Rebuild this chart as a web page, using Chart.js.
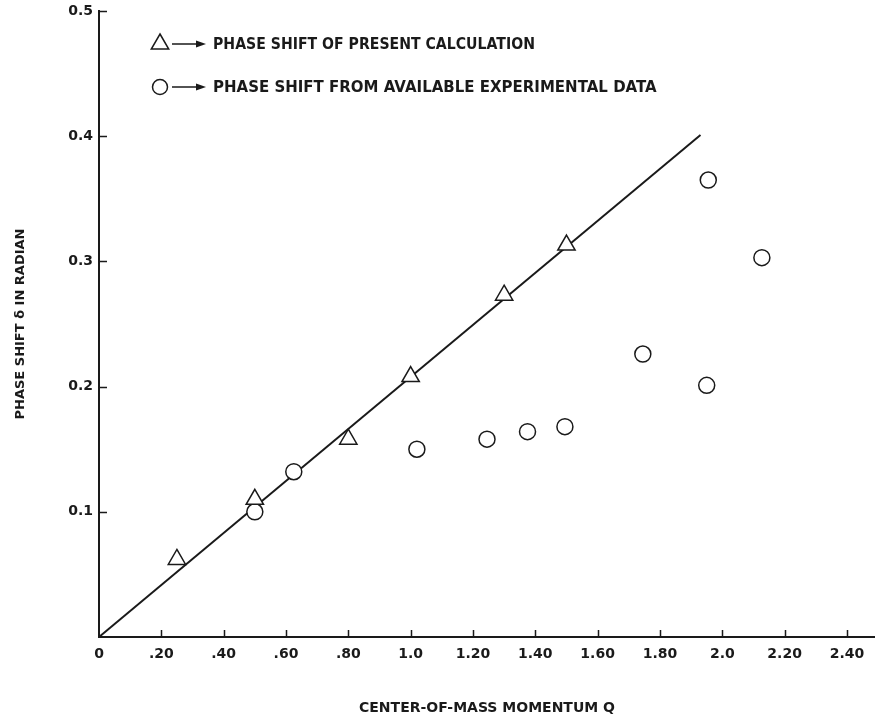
<!DOCTYPE html>
<html lang="en">
<head>
  <meta charset="UTF-8" />
  <title>Phase shift vs center-of-mass momentum</title>
  <script src="https://cdn.jsdelivr.net/npm/chart.js"></script>
  <style>
    html, body {
      margin: 0;
      padding: 0;
      background: #fff;
    }

    .wrap {
      position: relative;
      width: 875px;
      height: 727px;
    }
  </style>
</head>
<body>
  <div class="wrap">
    <canvas id="phaseChart"></canvas>
  </div>

  <script>
    // present calculation (triangles)
    const calcQ = [0.25, 0.50, 0.80, 1.00, 1.30, 1.50];
    const calcDelta = [0.062, 0.110, 0.158, 0.208, 0.273, 0.313];

    // available experimental data (circles)
    const expQ = [0.50, 0.625, 1.02, 1.245, 1.375, 1.495, 1.745, 1.95, 1.955, 2.127];
    const expDelta = [0.100, 0.132, 0.150, 0.158, 0.164, 0.168, 0.226, 0.201, 0.365, 0.303];

    // straight line drawn through the calculation
    const lineQ = [0, 1.93];
    const lineDelta = [0, 0.401];

    const xTickValues = [0, 0.2, 0.4, 0.6, 0.8, 1.0, 1.2, 1.4, 1.6, 1.8, 2.0, 2.2, 2.4];
    const xTickLabels = ['0', '.20', '.40', '.60', '.80', '1.0', '1.20', '1.40', '1.60', '1.80', '2.0', '2.20', '2.40'];
    const yTickValues = [0, 0.1, 0.2, 0.3, 0.4, 0.5];
    const yTickLabels = ['', '0.1', '0.2', '0.3', '0.4', '0.5'];

    const legendLabels = [
      'PHASE SHIFT OF PRESENT CALCULATION',
      'PHASE SHIFT FROM AVAILABLE EXPERIMENTAL DATA'
    ];

    const INK = '#1a1a1a';
    const FONT = '"DejaVu Sans", sans-serif';

    const toPoints = (xs, ys) => xs.map((x, i) => ({ x: x, y: ys[i] }));

    // small tick marks pointing into the plot
    const innerTicks = {
      id: 'innerTicks',
      afterDraw(chart) {
        const { ctx, chartArea, scales } = chart;
        ctx.save();
        ctx.strokeStyle = INK;
        ctx.lineWidth = 1.5;
        ctx.beginPath();
        scales.x.ticks.forEach(t => {
          if (t.value === 0) return;
          const px = Math.round(scales.x.getPixelForValue(t.value)) + 0.5;
          ctx.moveTo(px, chartArea.bottom);
          ctx.lineTo(px, chartArea.bottom - 7);
        });
        scales.y.ticks.forEach(t => {
          if (t.value === 0) return;
          const py = Math.round(scales.y.getPixelForValue(t.value)) + 0.5;
          ctx.moveTo(chartArea.left, py);
          ctx.lineTo(chartArea.left + 8, py);
        });
        ctx.stroke();
        ctx.restore();
      }
    };

    // legend: marker, arrow, text
    const arrowLegend = {
      id: 'arrowLegend',
      afterDraw(chart) {
        const { ctx, chartArea } = chart;
        const mx = chartArea.left + 61;
        const rows = [chartArea.top + 33, chartArea.top + 76];
        const widths = [322, 455];

        ctx.save();
        ctx.strokeStyle = INK;
        ctx.fillStyle = INK;
        ctx.lineWidth = 1.5;

        rows.forEach((y, i) => {
          // marker
          ctx.beginPath();
          if (i === 0) {
            ctx.moveTo(mx, y - 10);
            ctx.lineTo(mx + 8.7, y + 5);
            ctx.lineTo(mx - 8.7, y + 5);
            ctx.closePath();
          } else {
            ctx.arc(mx, y, 7.5, 0, Math.PI * 2);
          }
          ctx.stroke();

          // arrow
          ctx.beginPath();
          ctx.moveTo(mx + 12, y);
          ctx.lineTo(mx + 40, y);
          ctx.stroke();
          ctx.beginPath();
          ctx.moveTo(mx + 46, y);
          ctx.lineTo(mx + 36, y - 3.5);
          ctx.lineTo(mx + 36, y + 3.5);
          ctx.closePath();
          ctx.fill();

          // text
          ctx.font = 'bold 15px ' + FONT;
          ctx.textBaseline = 'middle';
          ctx.textAlign = 'left';
          ctx.fillText(legendLabels[i], mx + 53, y + 1, widths[i]);
        });
        ctx.restore();
      }
    };

    new Chart(document.getElementById('phaseChart'), {
      type: 'scatter',
      data: {
        datasets: [
          {
            label: 'line',
            type: 'line',
            data: toPoints(lineQ, lineDelta),
            borderColor: INK,
            borderWidth: 2,
            pointRadius: 0,
            fill: false,
            order: 3
          },
          {
            label: legendLabels[0],
            data: toPoints(calcQ, calcDelta),
            pointStyle: 'triangle',
            pointRadius: 10,
            pointBorderWidth: 1.5,
            pointBackgroundColor: '#fff',
            pointBorderColor: INK,
            order: 1
          },
          {
            label: legendLabels[1],
            data: toPoints(expQ, expDelta),
            pointStyle: 'circle',
            pointRadius: 8,
            pointBorderWidth: 1.5,
            pointBackgroundColor: '#fff',
            pointBorderColor: INK,
            order: 2
          }
        ]
      },
      options: {
        responsive: true,
        maintainAspectRatio: false,
        animation: false,
        layout: {
          autoPadding: false,
          padding: { top: 11, right: 0, bottom: 0, left: 0 }
        },
        plugins: {
          legend: { display: false },
          tooltip: { enabled: false }
        },
        scales: {
          x: {
            type: 'linear',
            min: 0,
            max: 2.49,
            afterBuildTicks: scale => {
              scale.ticks = xTickValues.map(v => ({ value: v }));
            },
            afterFit: scale => {
              scale.height = 90;
              scale.paddingLeft = 0;
              scale.paddingRight = 0;
            },
            grid: { display: true, drawOnChartArea: false, drawTicks: false },
            border: { display: true, color: INK, width: 2 },
            ticks: {
              padding: 9,
              color: INK,
              font: { family: FONT, size: 14, weight: 'bold' },
              maxRotation: 0,
              autoSkip: false,
              callback: (v, i) => xTickLabels[i]
            },
            title: {
              display: true,
              text: 'CENTER-OF-MASS MOMENTUM Q',
              color: INK,
              font: { family: FONT, size: 14, weight: 'bold' },
              padding: { top: 0, bottom: 10 }
            }
          },
          y: {
            type: 'linear',
            min: 0,
            max: 0.5,
            afterBuildTicks: scale => {
              scale.ticks = yTickValues.map(v => ({ value: v }));
            },
            afterFit: scale => {
              scale.width = 99;
              scale.paddingTop = 0;
              scale.paddingBottom = 0;
            },
            grid: { display: true, drawOnChartArea: false, drawTicks: false },
            border: { display: true, color: INK, width: 2 },
            ticks: {
              padding: 6,
              color: INK,
              font: { family: FONT, size: 14, weight: 'bold' },
              callback: (v, i) => yTickLabels[i]
            },
            title: {
              display: true,
              text: 'PHASE SHIFT δ IN RADIAN',
              color: INK,
              font: { family: FONT, size: 13, weight: 'bold' },
              padding: { top: 13, bottom: 0 }
            }
          }
        }
      },
      plugins: [innerTicks, arrowLegend]
    });
  </script>
</body>
</html>
